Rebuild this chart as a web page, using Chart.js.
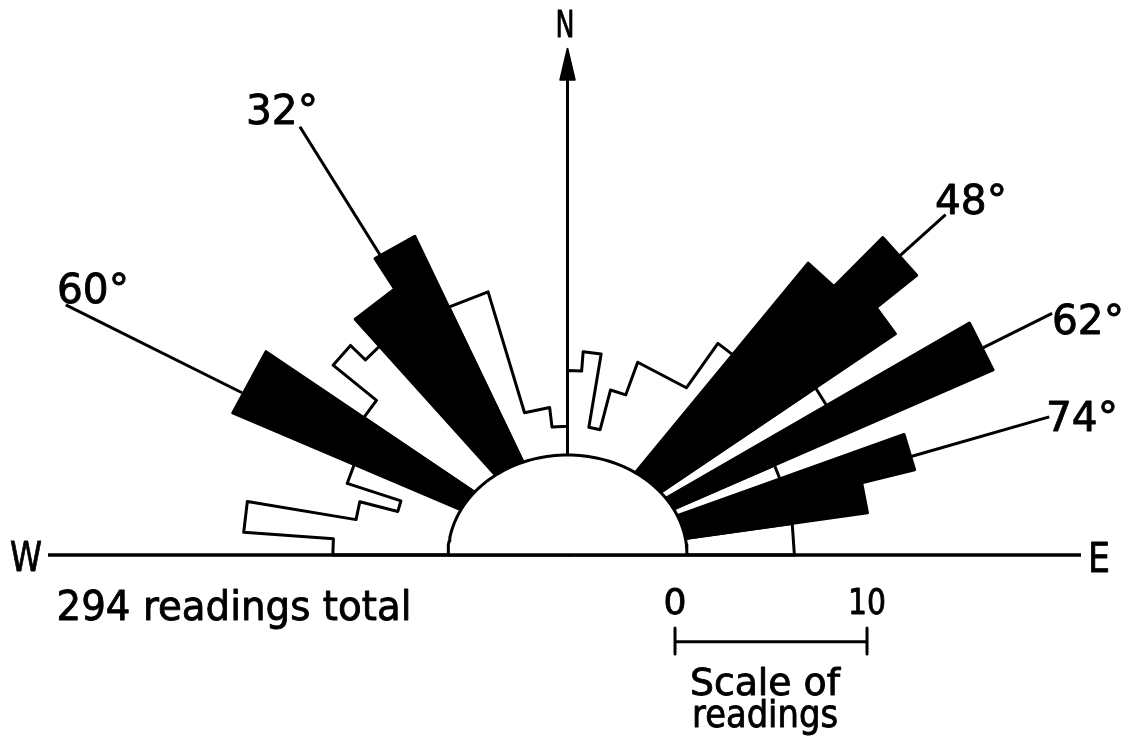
<!DOCTYPE html>
<html>
<head>
<meta charset="utf-8">
<script src="https://cdn.jsdelivr.net/npm/chart.js@4.4.0/dist/chart.umd.min.js"></script>
<style>
  html, body { margin: 0; padding: 0; background: #fff; overflow: hidden; }
  #wrap { position: relative; width: 1139px; height: 736px; }
</style>
</head>
<body>
<div id="wrap"><canvas id="rose"></canvas></div>
<script>
// joint strikes, degrees from north (negative = west of north)
const binEdges = [-90, -86, -80.5, -75.6, -72, -67, -56, -51, -46, -42, -33, -25.6, -16.8, -6.9, 0,
  4.4, 9.5, 14.6, 20, 35.4, 39.5, 44.8, 51.3, 56, 60, 66.5, 70.3, 76.2, 82, 90];
const readings = [6, 10.7, 5, 3, 6, 13, 7, 10, 9, 11, 13, 9, 2.5, 1.5,
  4.4, 5.4, 1.5, 3.6, 5.3, 8, 14.1, 17.6, 14.8, 9.7, 18.2, 5.7, 12.5, 9.6, 5.6];
// 0 = scattered readings, 1..5 = main joint set (index into peakLabels + 1)
const peakSet = [0, 0, 0, 0, 0, 1, 0, 0, 0, 2, 2, 0, 0, 0,
  0, 0, 0, 0, 0, 0, 3, 3, 3, 0, 4, 0, 5, 5, 0];
const peakLabels = ['60°', '32°', '48°', '62°', '74°'];
const totalReadings = 294;
const scaleTicks = [0, 10];

// layout (pixels per reading, centre of the rose on the page)
const PX = 19.2, W = 1139, H = 736, CX = 567.5, CY = 555;
const HUB_A = 119.5 / PX, HUB_B = 100 / PX;
const labelDir = [-63.5, -32, 48, 63.5, 74];
const labelEnd = [29.2, 26.3, 26.5, 28.2, 26.1];
const labelText = [[93, 303], [282, 124], [971, 214], [1088, 334], [1082, 431]];
const scaleBarStart = 5.6;

const rad = d => d * Math.PI / 180;
const polar = (r, d) => ({ x: r * Math.sin(rad(d)), y: r * Math.cos(rad(d)) });
function hubR(d) {
  const s = Math.sin(rad(d)), c = Math.cos(rad(d));
  return 1 / Math.sqrt(s * s / (HUB_A * HUB_A) + c * c / (HUB_B * HUB_B));
}
const tipR = i => hubR((binEdges[i] + binEdges[i + 1]) / 2) + readings[i];

function line(data, opts) {
  return Object.assign({
    data, showLine: true, fill: false, borderColor: '#000', borderWidth: 3,
    pointRadius: 0, tension: 0, borderJoinStyle: 'round', borderCapStyle: 'butt'
  }, opts);
}

const datasets = [];

// wedges: neighbouring bins of the same kind share one outline
const groups = [];
readings.forEach((v, i) => {
  const solid = peakSet[i] > 0;
  const last = groups[groups.length - 1];
  if (last && last.solid === solid) last.bins.push(i);
  else groups.push({ solid, bins: [i] });
});
groups.forEach(g => {
  const pts = [{ x: 0, y: 0 }];
  g.bins.forEach(i => {
    const r = tipR(i);
    pts.push(polar(r, binEdges[i]), polar(r, binEdges[i + 1]));
  });
  pts.push({ x: 0, y: 0 });
  datasets.push(line(pts, { fill: 'shape', backgroundColor: g.solid ? '#000' : '#fff', order: 10 }));
});

// hub
const hub = [];
for (let d = -90; d <= 90; d += 2) hub.push({ x: HUB_A * Math.sin(rad(d)), y: HUB_B * Math.cos(rad(d)) });
datasets.push(line(hub, { fill: 'shape', backgroundColor: '#fff', order: 3 }));

// W-E line
datasets.push(line([{ x: (48 - CX) / PX, y: 0 }, { x: (1081 - CX) / PX, y: 0 }], { borderWidth: 3.5, order: 2 }));

// north arrow
datasets.push(line([{ x: 0, y: HUB_B }, { x: 0, y: (CY - 70) / PX }], { order: 1 }));
datasets.push(line([
  { x: 0, y: (CY - 48) / PX }, { x: -7.5 / PX, y: (CY - 80) / PX },
  { x: 7.5 / PX, y: (CY - 80) / PX }, { x: 0, y: (CY - 48) / PX }
], { fill: 'shape', backgroundColor: '#000', borderWidth: 1.5, order: 1 }));

// lines to the set labels
labelDir.forEach((d, k) => {
  let i = 0;
  while (binEdges[i + 1] <= d) i++;
  datasets.push(line([polar(tipR(i), d), polar(labelEnd[k], d)], { order: 4 }));
});

// scale of readings
const sb0 = scaleBarStart + scaleTicks[0], sb1 = scaleBarStart + scaleTicks[1];
const barY = (CY - 641.7) / PX, tTop = (CY - 628) / PX, tBot = (CY - 654) / PX;
datasets.push(line([{ x: sb0, y: barY }, { x: sb1, y: barY }], { order: 1 }));
datasets.push(line([{ x: sb0, y: tTop }, { x: sb0, y: tBot }], { order: 1 }));
datasets.push(line([{ x: sb1, y: tTop }, { x: sb1, y: tBot }], { order: 1 }));

const textPlugin = {
  id: 'roseText',
  afterDraw(chart) {
    const ctx = chart.ctx;
    const xs = chart.scales.x;
    const put = (txt, x, y, size, width) => {
      ctx.save();
      ctx.font = size + 'px "DejaVu Sans"';
      ctx.textBaseline = 'alphabetic';
      ctx.textAlign = 'center';
      const w = ctx.measureText(txt).width;
      ctx.translate(x, y);
      if (width) ctx.scale(width / w, 1);
      ctx.fillStyle = '#000';
      ctx.strokeStyle = '#000';
      ctx.lineWidth = 0.9;
      ctx.lineJoin = 'round';
      ctx.fillText(txt, 0, 0);
      ctx.strokeText(txt, 0, 0);
      ctx.restore();
    };
    put('N', 565, 37, 37, 19);
    put('W', 26, 571, 41, 32);
    put('E', 1099, 572, 41, 22);
    peakLabels.forEach((t, k) => put(t, labelText[k][0], labelText[k][1], 41, 72));
    put(totalReadings + ' readings total', 234, 620, 41, 355);
    scaleTicks.forEach(v => put(String(v), xs.getPixelForValue(scaleBarStart + v), 614, 36, v ? 38 : 23));
    put('Scale of', 765, 695, 38, 150);
    put('readings', 765, 727, 38, 146);
  }
};

new Chart(document.getElementById('rose'), {
  type: 'scatter',
  data: { datasets },
  options: {
    responsive: true,
    maintainAspectRatio: false,
    animation: false,
    events: [],
    layout: { padding: 0 },
    plugins: { legend: { display: false }, tooltip: { enabled: false } },
    scales: {
      x: { type: 'linear', display: false, min: -CX / PX, max: (W - CX) / PX },
      y: { type: 'linear', display: false, min: -(H - CY) / PX, max: CY / PX }
    }
  },
  plugins: [textPlugin]
});
</script>
</body>
</html>
